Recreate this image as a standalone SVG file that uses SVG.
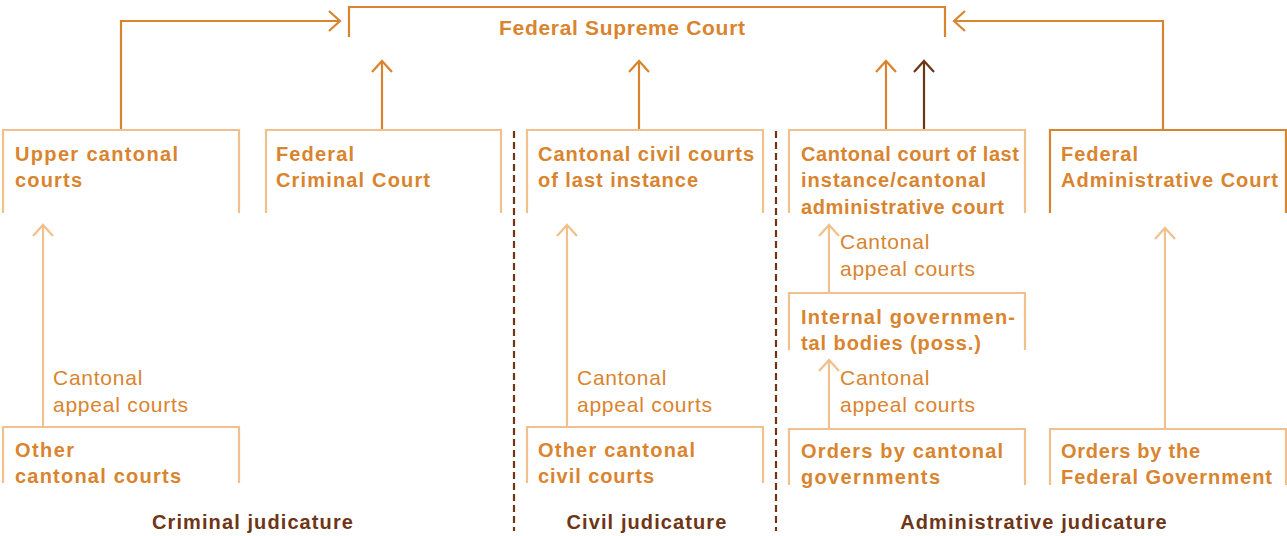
<svg xmlns="http://www.w3.org/2000/svg" width="1287" height="536" viewBox="0 0 1287 536">
<style>
text{font-family:"Liberation Sans",Arial,sans-serif}
.b{font-weight:bold;font-size:20px;fill:#D9842F}
.r{font-size:21px;fill:#D9842F;letter-spacing:0.75px}
.h{font-weight:bold;font-size:20px;fill:#6E3516;text-anchor:middle;letter-spacing:1.1px}
.lb{fill:none;stroke:#F0C08E;stroke-width:2.2}
.db{fill:none;stroke:#D9842F;stroke-width:2.2}
.la{fill:none;stroke:#F0C08E;stroke-width:2.2}
.da{fill:none;stroke:#D9842F;stroke-width:2.2}
.ba{fill:none;stroke:#6E3516;stroke-width:2.2}
.div{fill:none;stroke:#6E3516;stroke-width:2.2;stroke-dasharray:7 4}
</style>
<defs>
<marker id="ad" viewBox="-12 -11 14 22" markerWidth="14" markerHeight="22" refX="0" refY="0" orient="auto" markerUnits="userSpaceOnUse"><path d="M-11,-10 L0,0 L-11,10" fill="none" stroke="#D9842F" stroke-width="2.2"/></marker>
<marker id="al" viewBox="-12 -11 14 22" markerWidth="14" markerHeight="22" refX="0" refY="0" orient="auto" markerUnits="userSpaceOnUse"><path d="M-11,-10 L0,0 L-11,10" fill="none" stroke="#F0C08E" stroke-width="2.2"/></marker>
<marker id="ab" viewBox="-12 -11 14 22" markerWidth="14" markerHeight="22" refX="0" refY="0" orient="auto" markerUnits="userSpaceOnUse"><path d="M-11,-10 L0,0 L-11,10" fill="none" stroke="#6E3516" stroke-width="2.2"/></marker>
</defs>

<g id="dividers">
<line class="div" x1="514" y1="131" x2="514" y2="531"/>
<line class="div" x1="776" y1="131" x2="776" y2="531"/>
</g>

<g id="connectors">
<path class="da" d="M121,130 V21 H340" marker-end="url(#ad)"/>
<path class="da" d="M1163,130 V21 H954" marker-end="url(#ad)"/>
<path class="da" d="M382,130 V61" marker-end="url(#ad)"/>
<path class="da" d="M639,130 V61" marker-end="url(#ad)"/>
<path class="da" d="M886,130 V61" marker-end="url(#ad)"/>
<path class="ba" d="M924,130 V61" marker-end="url(#ab)"/>
<path class="la" d="M43,427 V225" marker-end="url(#al)"/>
<path class="la" d="M567,427 V225" marker-end="url(#al)"/>
<path class="la" d="M829,293 V225" marker-end="url(#al)"/>
<path class="la" d="M829,429 V360" marker-end="url(#al)"/>
<path class="la" d="M1165,429 V228" marker-end="url(#al)"/>
</g>

<g id="labels">
<text class="r" x="53" y="385">Cantonal</text>
<text class="r" x="53" y="412">appeal courts</text>
<text class="r" x="577" y="385">Cantonal</text>
<text class="r" x="577" y="412">appeal courts</text>
<text class="r" x="840" y="249">Cantonal</text>
<text class="r" x="840" y="276">appeal courts</text>
<text class="r" x="840" y="385">Cantonal</text>
<text class="r" x="840" y="412">appeal courts</text>
</g>

<g id="supreme">
<path class="db" d="M349,37 V7 H945 V37"/>
<text class="b" x="499" y="35" style="font-size:21px" textLength="246" lengthAdjust="spacing">Federal Supreme Court</text>
</g>

<g id="upper-cantonal">
<path class="lb" d="M3,213 V130 H239 V213"/>
<text class="b" x="15" y="161" textLength="163" lengthAdjust="spacing">Upper cantonal</text>
<text class="b" x="15" y="187" textLength="67" lengthAdjust="spacing">courts</text>
</g>

<g id="federal-criminal">
<path class="lb" d="M266,213 V130 H501 V213"/>
<text class="b" x="276" y="161" textLength="78" lengthAdjust="spacing">Federal</text>
<text class="b" x="276" y="187" textLength="154" lengthAdjust="spacing">Criminal Court</text>
</g>

<g id="cantonal-civil-last">
<path class="lb" d="M527,213 V130 H763 V213"/>
<text class="b" x="538" y="161" textLength="216" lengthAdjust="spacing">Cantonal civil courts</text>
<text class="b" x="538" y="187" textLength="160" lengthAdjust="spacing">of last instance</text>
</g>

<g id="cantonal-last-admin">
<path class="lb" d="M789,213 V130 H1025 V213"/>
<text class="b" x="801" y="161" textLength="218" lengthAdjust="spacing">Cantonal court of last</text>
<text class="b" x="801" y="187" textLength="185" lengthAdjust="spacing">instance/cantonal</text>
<text class="b" x="801" y="214" textLength="203" lengthAdjust="spacing">administrative court</text>
</g>

<g id="federal-admin">
<path class="db" d="M1050,213 V130 H1286 V213"/>
<text class="b" x="1061" y="161" textLength="77" lengthAdjust="spacing">Federal</text>
<text class="b" x="1061" y="187" textLength="217" lengthAdjust="spacing">Administrative Court</text>
</g>

<g id="internal-gov">
<path class="lb" d="M789,350 V293 H1025 V350"/>
<text class="b" x="801" y="324" textLength="214" lengthAdjust="spacing">Internal governmen-</text>
<text class="b" x="801" y="350" textLength="180" lengthAdjust="spacing">tal bodies (poss.)</text>
</g>

<g id="other-cantonal">
<path class="lb" d="M3,483 V427 H239 V483"/>
<text class="b" x="15" y="457" textLength="59" lengthAdjust="spacing">Other</text>
<text class="b" x="15" y="483" textLength="166" lengthAdjust="spacing">cantonal courts</text>
</g>

<g id="other-civil">
<path class="lb" d="M527,483 V427 H763 V483"/>
<text class="b" x="538" y="457" textLength="157" lengthAdjust="spacing">Other cantonal</text>
<text class="b" x="538" y="483" textLength="116" lengthAdjust="spacing">civil courts</text>
</g>

<g id="orders-cantonal">
<path class="lb" d="M789,485 V429 H1025 V485"/>
<text class="b" x="801" y="458" textLength="202" lengthAdjust="spacing">Orders by cantonal</text>
<text class="b" x="801" y="484" textLength="139" lengthAdjust="spacing">governments</text>
</g>

<g id="orders-federal">
<path class="lb" d="M1050,485 V429 H1286 V485"/>
<text class="b" x="1061" y="458" textLength="139" lengthAdjust="spacing">Orders by the</text>
<text class="b" x="1061" y="484" textLength="211" lengthAdjust="spacing">Federal Government</text>
</g>

<g id="categories">
<text class="h" x="253" y="529">Criminal judicature</text>
<text class="h" x="647" y="529">Civil judicature</text>
<text class="h" x="1034" y="529">Administrative judicature</text>
</g>
</svg>
